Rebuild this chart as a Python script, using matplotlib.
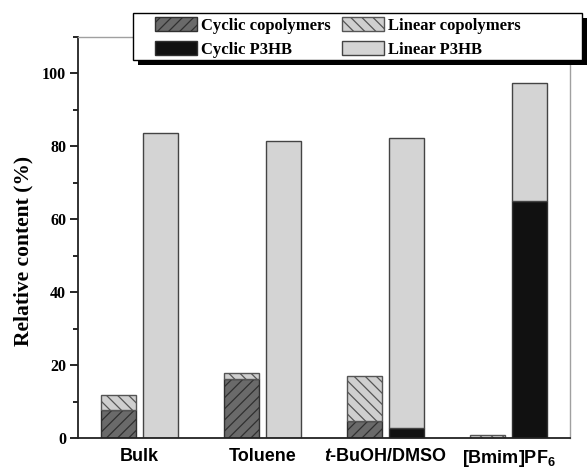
import matplotlib
matplotlib.use("Agg")
import matplotlib.pyplot as plt
import numpy as np
from matplotlib.patches import Rectangle, Patch
from matplotlib.ticker import MultipleLocator

categories = ["Bulk", "Toluene", r"$\mathit{t}$-BuOH/DMSO", r"[Bmim]PF$_\mathbf{6}$"]
cyclic_copolymers = [7.8, 16.3, 4.7, 0.0]
linear_copolymers = [3.9, 1.5, 12.3, 0.8]
cyclic_p3hb = [0.0, 0.0, 2.8, 65.0]
linear_p3hb = [83.7, 81.6, 79.6, 32.5]
yticks = [0, 20, 40, 60, 80, 100]

plt.rcParams['mathtext.fontset'] = 'custom'
plt.rcParams['mathtext.rm'] = 'Liberation Sans:bold'
plt.rcParams['mathtext.bf'] = 'Liberation Sans:bold'
plt.rcParams['mathtext.it'] = 'Liberation Sans:bold:italic'
plt.rcParams['hatch.linewidth'] = 0.9

W_PX, H_PX = 587, 468
fig = plt.figure(figsize=(W_PX / 100, H_PX / 100), dpi=100)
ax = fig.add_axes([78/W_PX, 30/H_PX, (570-78)/W_PX, (438-37)/H_PX])

x = np.arange(len(categories))
w = 0.285
off = 0.167
ec = '#303030'

ax.bar(x - off, cyclic_copolymers, w, color='#6a6a6a', edgecolor=ec, hatch='///', lw=1.0, zorder=2)
ax.bar(x - off, linear_copolymers, w, bottom=cyclic_copolymers, color='#cfcfcf', edgecolor='#555555',
       hatch='\\\\\\', lw=1.0, zorder=2)
ax.bar(x + off, cyclic_p3hb, w, color='#111111', edgecolor=ec, lw=1.0, zorder=2)
ax.bar(x + off, linear_p3hb, w, bottom=cyclic_p3hb, color='#d4d4d4', edgecolor='#444444', lw=1.0, zorder=2)

ax.set_xlim(-0.5, 3.5)
ax.set_ylim(0, 110)
ax.set_yticks(yticks)
ax.yaxis.set_minor_locator(MultipleLocator(10))
ax.tick_params(axis='y', which='major', direction='out', length=6, width=1.2, pad=2.5)
ax.tick_params(axis='y', which='minor', direction='out', length=3.5, width=1.2)
for lab in ax.get_yticklabels():
    lab.set_fontfamily('Liberation Serif')
    lab.set_fontweight('bold')
    lab.set_fontsize(11.5)
ax.set_xticks(x)
ax.set_xticklabels(categories, fontfamily='Liberation Sans', fontweight='bold', fontsize=13)
ax.tick_params(axis='x', length=0, pad=7)

ax.set_ylabel("Relative content (%)", fontfamily='Liberation Serif', fontweight='bold', fontsize=15.5)
ax.yaxis.set_label_coords((33 - 78) / 492, 0.466)

for s in ['left', 'bottom']:
    ax.spines[s].set_linewidth(1.3)
    ax.spines[s].set_color('#222222')
for s in ['top', 'right']:
    ax.spines[s].set_linewidth(1.0)
    ax.spines[s].set_color('#a0a0a0')

# legend frame + shadow (fixed box as in reference)
fig.add_artist(Rectangle((138/W_PX, 1 - 65/H_PX), (587-138)/W_PX, (65-18)/H_PX,
                         transform=fig.transFigure, facecolor='black', edgecolor='none', zorder=8))
fig.add_artist(Rectangle((133/W_PX, 1 - 60/H_PX), (582-133)/W_PX, (60-13)/H_PX,
                         transform=fig.transFigure, facecolor='white', edgecolor='black', lw=1.0, zorder=9))

handles = [
    Patch(facecolor='#6a6a6a', edgecolor=ec, hatch='///', label='Cyclic copolymers'),
    Patch(facecolor='#111111', edgecolor=ec, label='Cyclic P3HB'),
    Patch(facecolor='#cfcfcf', edgecolor='#555555', hatch='\\\\\\', label='Linear copolymers'),
    Patch(facecolor='#d4d4d4', edgecolor='#444444', label='Linear P3HB'),
]
leg = fig.legend(handles=handles, ncol=2, loc='upper left', bbox_to_anchor=(155/W_PX, 1 - 17/H_PX),
                 frameon=False,
                 prop={'family': 'Liberation Serif', 'weight': 'bold', 'size': 12},
                 handlelength=2.5, handleheight=0.95, columnspacing=0.7, handletextpad=0.25,
                 borderpad=0.0, labelspacing=0.4, borderaxespad=0)
leg.set_zorder(10)

fig.savefig("out.png", dpi=100)
